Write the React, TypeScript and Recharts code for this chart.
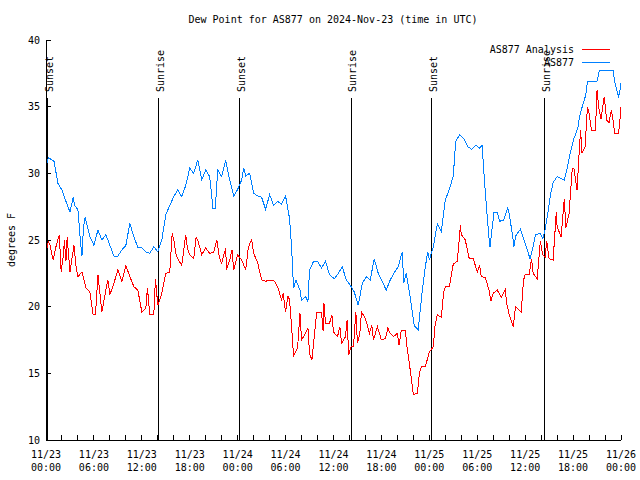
import React from "react";
import {
  LineChart,
  Line,
  XAxis,
  YAxis,
  ReferenceLine,
} from "recharts";

// hours since 2024-11-23 00:00 UTC
const RED_HOURS = [
  0, 0.3, 0.5, 0.9, 1.2, 1.67, 1.9, 2.2, 2.3, 2.5, 2.65, 3, 3.5, 3.8, 4, 4.5, 5, 5.5, 5.9, 6.2,
  6.5, 7, 7.5, 7.75, 8, 8.5, 9, 9.5, 10, 10.5, 11, 11.5, 12, 12.5, 12.7, 13, 13.5, 13.7, 14, 14.5,
  15, 15.5, 15.8, 16, 16.3, 16.5, 17, 17.5, 17.7, 18, 18.5, 18.8, 19, 19.5, 20, 20.5, 21, 21.4, 21.7, 22,
  22.5, 22.6, 23, 23.3, 23.5, 24, 24.5, 25, 25.3, 25.5, 25.75, 26, 26.5, 27, 27.5, 28, 28.5, 29, 29.5, 29.7,
  30, 30.3, 30.5, 30.75, 31, 31.5, 31.8, 32, 32.5, 32.8, 33, 33.3, 33.5, 33.9, 34.5, 34.7, 34.8, 35, 35.5, 35.8,
  36, 36.5, 36.8, 37, 37.5, 37.7, 37.9, 38.2, 38.5, 38.8, 39, 39.3, 39.5, 40, 40.5, 40.8, 41, 41.5, 42, 42.5,
  42.8, 43, 43.5, 44, 44.2, 44.5, 45, 45.2, 45.5, 46, 46.5, 46.75, 47, 47.5, 48, 48.5, 48.7, 49, 49.5, 49.8,
  50, 50.5, 51, 51.5, 51.9, 52, 52.5, 53, 53.5, 54, 54.3, 54.5, 55, 55.5, 55.7, 56, 56.5, 57, 57.5, 57.7,
  58, 58.5, 58.8, 59, 59.5, 59.8, 60, 60.5, 60.8, 61, 61.5, 61.9, 62.2, 62.5, 62.7, 63, 63.5, 63.9, 64, 64.5,
  64.9, 65.1, 65.5, 65.9, 66.1, 66.5, 66.8, 66.95, 67.1, 67.5, 67.8, 68, 68.3, 68.8, 69, 69.2, 69.5, 69.9, 70.2, 70.5,
  70.8, 71, 71.2, 71.7, 71.9, 72,
];
const RED_VALUES = [
  24.1, 24.9, 24.6, 23.5, 24.4, 25.4, 22.6, 24.0, 25.0, 23.4, 25.2, 22.6, 24.6, 22.8, 22.25, 22.6, 21.4, 21.1, 19.4, 19.4,
  22.4, 19.6, 21.25, 22.0, 20.9, 21.75, 22.75, 21.9, 23.1, 22.25, 21.5, 21.25, 19.6, 19.9, 21.4, 19.4, 19.4, 22.1, 20.1, 21.0,
  22.5, 22.6, 25.5, 25.0, 23.9, 23.6, 23.1, 25.4, 24.4, 23.9, 23.6, 25.2, 25.0, 23.9, 24.4, 24.0, 24.1, 25.0, 23.7, 23.25,
  24.4, 22.75, 23.5, 24.25, 22.75, 23.9, 23.5, 22.75, 24.25, 24.75, 25.0, 24.0, 23.3, 22.0, 21.9, 22.0, 22.0, 21.5, 20.5, 21.0,
  19.6, 20.8, 20.5, 18.5, 16.3, 16.9, 19.5, 17.5, 18.0, 18.4, 16.5, 16.0, 17.25, 19.6, 19.6, 18.2, 20.25, 18.75, 18.75, 19.4,
  18.1, 17.75, 18.5, 17.25, 17.75, 19.0, 16.4, 17.0, 17.0, 19.6, 17.25, 18.0, 19.6, 19.1, 18.0, 18.6, 17.5, 18.5, 17.5, 17.6,
  18.4, 18.1, 17.75, 18.0, 17.1, 18.25, 18.25, 17.0, 15.75, 13.4, 13.5, 15.0, 15.5, 15.5, 16.6, 17.0, 18.5, 19.4, 19.2, 21.1,
  21.5, 21.5, 23.2, 23.4, 26.1, 25.4, 25.0, 23.6, 23.6, 22.6, 23.1, 22.25, 22.2, 21.2, 20.4, 21.0, 21.25, 20.7, 21.25, 20.2,
  19.4, 18.5, 20.0, 19.9, 19.6, 22.0, 22.4, 22.4, 23.6, 22.5, 22.1, 24.9, 23.9, 23.75, 24.9, 23.6, 23.5, 27.1, 26.0, 25.25,
  28.1, 25.9, 27.0, 30.4, 30.4, 28.75, 32.0, 33.25, 31.5, 32.0, 35.0, 34.5, 33.25, 33.25, 36.25, 35.0, 34.1, 35.75, 34.0, 33.8,
  34.75, 34.0, 33.0, 33.0, 34.25, 35.0,
];

const BLUE_HOURS = [
  0, 0.3, 0.5, 1, 1.5, 2, 2.5, 3, 3.4, 3.6, 4, 4.3, 4.5, 4.7, 4.9, 5.5, 6, 6.5, 7, 7.5,
  8, 8.5, 9, 9.5, 10, 10.5, 11, 11.5, 12, 12.5, 13, 13.5, 14, 14.5, 15, 15.5, 16, 16.5, 17, 17.5,
  18, 18.5, 19, 19.5, 20, 20.5, 20.9, 21.2, 21.5, 22, 22.5, 23, 23.5, 24, 24.5, 24.75, 25, 25.5, 26, 26.5,
  27, 27.5, 28, 28.5, 29, 29.5, 30, 30.5, 30.75, 31, 31.3, 31.8, 32, 32.5, 32.8, 33, 33.5, 34, 34.5, 35,
  35.5, 36.1, 36.6, 37.1, 37.6, 38.1, 38.6, 39.1, 39.6, 40.1, 40.6, 41.1, 41.6, 42.1, 42.6, 43.1, 43.6, 44.1, 44.6, 44.8,
  45.1, 45.6, 46.1, 46.6, 47.1, 47.5, 47.8, 48, 48.5, 49, 49.5, 50, 50.5, 51, 51.3, 51.8, 52.3, 52.8, 53.3, 53.8,
  54.3, 54.6, 54.9, 55.2, 55.5, 55.6, 56.1, 56.5, 56.8, 57.3, 57.8, 58, 58.4, 58.6, 58.8, 59.4, 60, 60.3, 60.6, 61,
  61.3, 61.9, 62.2, 62.5, 62.9, 63.2, 63.5, 64, 64.5, 64.9, 65.3, 65.6, 66.1, 66.6, 66.8, 67.1, 67.6, 67.8, 69, 69.3,
  71, 71.2, 71.4, 71.7, 71.85, 72,
];
const BLUE_VALUES = [
  30.5, 31.2, 31.1, 30.9, 29.25, 28.75, 27.9, 27.1, 28.2, 27.6, 27.25, 25.0, 23.8, 26.0, 26.7, 25.25, 24.6, 25.75, 25.0, 25.4,
  24.6, 23.8, 23.8, 24.25, 24.6, 26.25, 25.25, 24.45, 24.4, 24.1, 24.0, 24.5, 24.1, 25.0, 26.9, 27.6, 28.25, 28.75, 28.25, 29.1,
  30.4, 30.0, 31.0, 29.5, 30.25, 29.75, 27.4, 27.4, 30.25, 29.75, 31.0, 29.5, 28.3, 28.8, 29.5, 30.4, 29.8, 30.0, 28.5, 28.3,
  28.2, 27.3, 28.4, 27.6, 27.9, 27.7, 28.3, 26.6, 24.5, 21.4, 22.0, 21.25, 20.5, 20.75, 20.4, 22.75, 23.4, 23.4, 22.9, 23.4,
  22.4, 22.1, 22.5, 23.0, 22.0, 21.6, 21.1, 20.1, 21.75, 22.25, 22.0, 23.6, 22.5, 21.9, 21.25, 22.0, 22.55, 23.0, 24.1, 21.75,
  22.5, 20.75, 18.6, 18.25, 21.1, 23.0, 24.1, 23.5, 24.5, 26.2, 25.6, 28.0, 28.8, 29.8, 32.4, 32.9, 32.6, 32.0, 31.8, 32.1,
  31.9, 32.1, 29.5, 27.1, 25.0, 24.5, 27.1, 27.1, 26.4, 26.5, 27.4, 27.0, 25.4, 24.5, 25.3, 25.8, 24.75, 24.2, 23.6, 24.5,
  25.4, 25.5, 25.1, 25.8, 27.25, 28.5, 29.3, 29.75, 29.6, 29.5, 30.5, 31.4, 32.6, 33.4, 34.25, 34.9, 35.9, 36.9, 36.9, 37.75,
  37.75, 36.9, 36.4, 35.75, 36.1, 36.75,
];

const SUN_HOURS = [0.2, 14.1, 24.25, 38.2, 48.3, 62.45];
const SUN_LABELS = ["Sunset", "Sunrise", "Sunset", "Sunrise", "Sunset", "Sunrise"];

const HOUR_TICKS = [
  0, 2, 4, 6, 8, 10, 12, 14, 16, 18, 20, 22, 24, 26, 28, 30, 32, 34, 36,
  38, 40, 42, 44, 46, 48, 50, 52, 54, 56, 58, 60, 62, 64, 66, 68, 70, 72,
];
const Y_TICKS = [10, 15, 20, 25, 30, 35, 40];

const FONT = "'DejaVu Sans Mono', monospace";
const RED = "#ff0000";
const BLUE = "#0080ff";

const redData = RED_HOURS.map((t, i) => ({ t, v: RED_VALUES[i] }));
const blueData = BLUE_HOURS.map((t, i) => ({ t, v: BLUE_VALUES[i] }));

function TimeTick(props: any) {
  const { x, y, payload } = props;
  const h = payload.value as number;
  if (h % 6 !== 0) return null;
  const day = 23 + Math.floor(h / 24);
  const hh = String(h % 24).padStart(2, "0");
  return (
    <g>
      <text x={x} y={y + 23} textAnchor="middle" fontSize={10} fontFamily={FONT} fill="#000">
        {`11/${day}`}
      </text>
      <text x={x} y={y + 36} textAnchor="middle" fontSize={10} fontFamily={FONT} fill="#000">
        {`${hh}:00`}
      </text>
    </g>
  );
}

function sunLabel(text: string) {
  return (props: any) => {
    const vb = props.viewBox || {};
    const x = vb.x + 5;
    const y = vb.y - 6;
    return (
      <text
        x={x}
        y={y}
        transform={`rotate(-90 ${x} ${y})`}
        fontSize={10}
        fontFamily={FONT}
        fill="#000"
        textAnchor="start"
      >
        {text}
      </text>
    );
  };
}

export default function App() {
  return (
    <div
      style={{
        position: "absolute",
        left: 0,
        top: 0,
        width: 640,
        height: 480,
        background: "#fff",
        fontFamily: FONT,
        shapeRendering: "crispEdges",
      }}
    >
      <LineChart
        width={640}
        height={480}
        margin={{ top: 40, right: 19, bottom: 0, left: 0 }}
      >
        <XAxis
          dataKey="t"
          type="number"
          domain={[0, 72]}
          ticks={HOUR_TICKS}
          interval={0}
          allowDataOverflow
          height={40}
          tickSize={-5}
          tickMargin={0}
          tick={<TimeTick />}
          axisLine={{ stroke: "#000" }}
          tickLine={{ stroke: "#000" }}
        />
        <XAxis
          xAxisId="top"
          orientation="top"
          dataKey="t"
          type="number"
          domain={[0, 72]}
          ticks={HOUR_TICKS}
          interval={0}
          allowDataOverflow
          height={0}
          tickSize={-5}
          tick={false}
          axisLine={{ stroke: "#000" }}
          tickLine={{ stroke: "#000" }}
        />
        <YAxis
          type="number"
          domain={[10, 40]}
          ticks={Y_TICKS}
          interval={0}
          allowDataOverflow
          width={46}
          tickSize={-5}
          tickMargin={11}
          tick={{ fontSize: 10, fontFamily: FONT, fill: "#000" }}
          axisLine={{ stroke: "#000" }}
          tickLine={{ stroke: "#000" }}
          label={{
            value: "degrees F",
            angle: -90,
            position: "insideLeft",
            offset: 11,
            style: { fontSize: 10, fontFamily: FONT, fill: "#000", textAnchor: "middle" },
          }}
        />
        <YAxis
          yAxisId="right"
          orientation="right"
          type="number"
          domain={[10, 40]}
          ticks={Y_TICKS}
          interval={0}
          allowDataOverflow
          width={0}
          tickSize={-5}
          tick={false}
          axisLine={{ stroke: "#000" }}
          tickLine={{ stroke: "#000" }}
        />
        {SUN_HOURS.map((h, i) => (
          <ReferenceLine
            key={`sun-${i}`}
            segment={[
              { x: h, y: 10 },
              { x: h, y: 35.65 },
            ]}
            stroke="#000"
            strokeWidth={1}
            label={sunLabel(SUN_LABELS[i])}
          />
        ))}
        <Line
          data={blueData}
          dataKey="v"
          type="linear"
          stroke={BLUE}
          strokeWidth={1}
          dot={false}
          isAnimationActive={false}
          name="AS877"
        />
        <Line
          data={redData}
          dataKey="v"
          type="linear"
          stroke={RED}
          strokeWidth={1}
          dot={false}
          isAnimationActive={false}
          name="AS877 Analysis"
        />
      </LineChart>
      <svg
        width={640}
        height={480}
        style={{ position: "absolute", left: 0, top: 0, pointerEvents: "none" }}
      >
        <text x={333} y={23} textAnchor="middle" fontSize={10} fontFamily={FONT} fill="#000">
          Dew Point for AS877 on 2024-Nov-23 (time in UTC)
        </text>
        <text x={574} y={53} textAnchor="end" fontSize={10} fontFamily={FONT} fill="#000">
          AS877 Analysis
        </text>
        <line x1={582} x2={610} y1={49.5} y2={49.5} stroke={RED} strokeWidth={1} />
        <text x={574} y={66} textAnchor="end" fontSize={10} fontFamily={FONT} fill="#000">
          AS877
        </text>
        <line x1={582} x2={610} y1={62.5} y2={62.5} stroke={BLUE} strokeWidth={1} />
      </svg>
    </div>
  );
}
